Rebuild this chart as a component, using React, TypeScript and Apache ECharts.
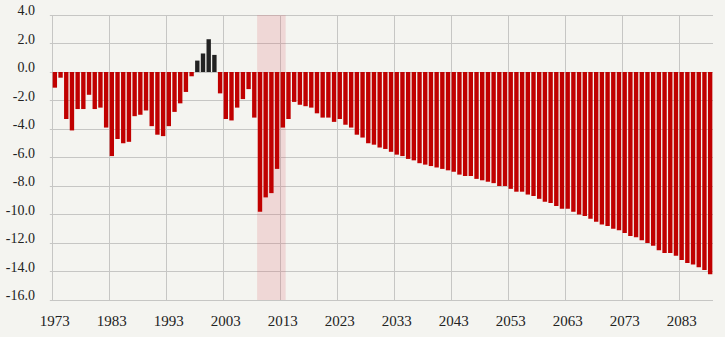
import React, { useEffect, useRef } from "react";
import * as echarts from "echarts";

const years: string[] = [
  "1973", "1974", "1975", "1976", "1977", "1978", "1979", "1980", "1981", "1982",
  "1983", "1984", "1985", "1986", "1987", "1988", "1989", "1990", "1991", "1992",
  "1993", "1994", "1995", "1996", "1997", "1998", "1999", "2000", "2001", "2002",
  "2003", "2004", "2005", "2006", "2007", "2008", "2009", "2010", "2011", "2012",
  "2013", "2014", "2015", "2016", "2017", "2018", "2019", "2020", "2021", "2022",
  "2023", "2024", "2025", "2026", "2027", "2028", "2029", "2030", "2031", "2032",
  "2033", "2034", "2035", "2036", "2037", "2038", "2039", "2040", "2041", "2042",
  "2043", "2044", "2045", "2046", "2047", "2048", "2049", "2050", "2051", "2052",
  "2053", "2054", "2055", "2056", "2057", "2058", "2059", "2060", "2061", "2062",
  "2063", "2064", "2065", "2066", "2067", "2068", "2069", "2070", "2071", "2072",
  "2073", "2074", "2075", "2076", "2077", "2078", "2079", "2080", "2081", "2082",
  "2083", "2084", "2085", "2086", "2087", "2088",
];

const balance: number[] = [
  -1.1, -0.4, -3.3, -4.1, -2.6, -2.6, -1.6, -2.6, -2.5, -3.9,
  -5.9, -4.7, -5.0, -4.9, -3.1, -3.0, -2.7, -3.8, -4.4, -4.5,
  -3.8, -2.8, -2.2, -1.4, -0.3, 0.8, 1.3, 2.3, 1.2, -1.5,
  -3.3, -3.4, -2.5, -1.9, -1.2, -3.2, -9.8, -8.8, -8.5, -6.8,
  -3.9, -3.3, -2.1, -2.3, -2.4, -2.5, -2.9, -3.2, -3.2, -3.5,
  -3.3, -3.7, -3.9, -4.4, -4.6, -5.0, -5.1, -5.3, -5.4, -5.6,
  -5.8, -5.9, -6.1, -6.2, -6.4, -6.5, -6.6, -6.7, -6.8, -6.9,
  -7.0, -7.2, -7.3, -7.3, -7.5, -7.6, -7.7, -7.8, -8.0, -8.0,
  -8.2, -8.4, -8.4, -8.6, -8.7, -8.9, -9.1, -9.2, -9.4, -9.6,
  -9.6, -9.8, -10.0, -10.1, -10.3, -10.5, -10.7, -10.8, -11.0, -11.1,
  -11.3, -11.5, -11.6, -11.8, -12.0, -12.2, -12.5, -12.7, -12.7, -12.9,
  -13.2, -13.4, -13.5, -13.7, -13.9, -14.2,
];

const shadedYears: string[] = ["2009", "2013"];
const yTicks: number[] = [-16, 4, 2];

const BG = "#f4f4f0";
const GRID = "#c6c6c4";
const RED = "#c00000";
const BLACK = "#222222";
const FONT = "'Liberation Serif', 'Times New Roman', serif";

export default function App() {
  const ref = useRef<HTMLDivElement>(null);

  useEffect(() => {
    document.body.style.margin = "0";
    document.body.style.background = BG;
    if (!ref.current) return;
    const chart = echarts.init(ref.current, undefined, { renderer: "svg" });
    const shadeStart = years.indexOf(shadedYears[0]) - 0.5;
    const shadeEnd = years.indexOf(shadedYears[1]) + 0.5;

    chart.setOption({
      animation: false,
      backgroundColor: BG,
      textStyle: { fontFamily: FONT },
      grid: { left: 52, right: 12, top: 15, bottom: 37, containLabel: false },
      xAxis: [
        {
          type: "category",
          data: years,
          boundaryGap: true,
          axisLine: { show: false },
          axisTick: { show: false },
          axisLabel: {
            interval: 9,
            fontSize: 15,
            color: "#222",
            fontFamily: FONT,
            margin: 13,
          },
          splitLine: {
            show: true,
            interval: 9,
            showMaxLine: false,
            lineStyle: { color: GRID, width: 1 },
          },
        },
        {
          type: "value",
          min: -0.5,
          max: years.length - 0.5,
          show: false,
          splitLine: { show: false },
        },
      ],
      yAxis: {
        type: "value",
        min: yTicks[0],
        max: yTicks[1],
        interval: yTicks[2],
        axisLine: { show: false },
        axisTick: { show: true, length: 5, lineStyle: { color: GRID } },
        axisLabel: {
          fontSize: 14,
          color: "#222",
          fontFamily: FONT,
          margin: 17,
          verticalAlign: "bottom",
          lineHeight: 9,
          formatter: (v: number) => v.toFixed(1),
        },
        splitLine: { show: true, lineStyle: { color: GRID, width: 1 } },
      },
      series: [
        {
          type: "line",
          xAxisIndex: 1,
          data: [],
          silent: true,
          markArea: {
            silent: true,
            itemStyle: { color: "rgba(222, 100, 110, 0.2)" },
            data: [[{ xAxis: shadeStart }, { xAxis: shadeEnd }]],
          },
        },
        {
          type: "bar",
          xAxisIndex: 0,
          data: balance,
          barCategoryGap: "23%",
          itemStyle: {
            color: (p: any) => (p.value >= 0 ? BLACK : RED),
          },
        },
      ],
    });

    return () => chart.dispose();
  }, []);

  return (
    <div
      ref={ref}
      style={{ position: "fixed", left: 0, top: 0, width: 725, height: 337 }}
    />
  );
}
